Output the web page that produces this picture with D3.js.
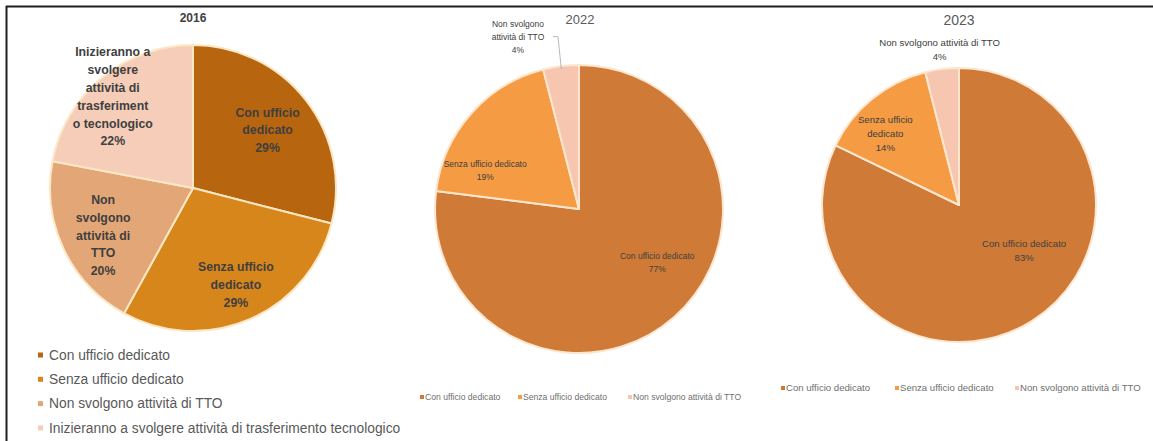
<!DOCTYPE html>
<html><head><meta charset="utf-8">
<script src="https://cdn.jsdelivr.net/npm/d3@7"></script>
<style>body{margin:0;background:#fff}svg{display:block;font-family:"Liberation Sans",Arial,sans-serif}</style>
</head><body>
<svg id="c" width="1153" height="441"></svg>
<script>
// ---- data ----
const titles = ["2016", "2022", "2023"];
const categories2016 = ["Con ufficio dedicato", "Senza ufficio dedicato", "Non svolgono attività di TTO", "Inizieranno a svolgere attività di trasferimento tecnologico"];
const values2016 = [29, 29, 20, 22];
const labels2016 = [["Con ufficio", "dedicato"], ["Senza ufficio", "dedicato"], ["Non", "svolgono", "attività di", "TTO"], ["Inizieranno a", "svolgere", "attività di", "trasferiment", "o tecnologico"]];
const categories2022 = ["Con ufficio dedicato", "Senza ufficio dedicato", "Non svolgono attività di TTO"];
const values2022 = [77, 19, 4];
const labels2022 = [["Con ufficio dedicato"], ["Senza ufficio dedicato"], ["Non svolgono", "attività di TTO"]];
const categories2023 = ["Con ufficio dedicato", "Senza ufficio dedicato", "Non svolgono attività di TTO"];
const values2023 = [83, 14, 4];
const labels2023 = [["Con ufficio dedicato"], ["Senza ufficio", "dedicato"], ["Non svolgono attività di TTO"]];

const colors2016 = ["#b8650f", "#d7861c", "#e3a676", "#f5cdb8"];
const colorsNew = ["#cf7b37", "#f49b43", "#f7c6b0"];

const svg = d3.select("#c");
svg.append("rect").attr("width", 1153).attr("height", 441).attr("fill", "#fff");
// frame
svg.append("line").attr("x1", 6).attr("x2", 1153).attr("y1", 6.5).attr("y2", 6.5).attr("stroke", "#1e1e1e").attr("stroke-width", 2);
svg.append("line").attr("x1", 6.5).attr("x2", 6.5).attr("y1", 6).attr("y2", 441).attr("stroke", "#1e1e1e").attr("stroke-width", 2);

const rad = Math.PI / 180;
function polar(cx, cy, ang, r) { return [cx + Math.sin(ang) * r, cy - Math.cos(ang) * r]; }

function drawPie(o) {
  const g = svg.append("g");
  const pie = d3.pie().sort(null).value(d => d)(o.values);
  const arc = d3.arc().innerRadius(0).outerRadius(o.r);
  const pg = g.append("g").attr("transform", `translate(${o.cx},${o.cy})`);
  pg.selectAll("path").data(pie).join("path")
    .attr("d", arc).attr("fill", (d, i) => o.colors[i])
    .attr("stroke", o.stroke).attr("stroke-width", 2).attr("stroke-linejoin", "round");
  g.append("text").attr("x", o.tx).attr("y", o.ty).attr("text-anchor", "middle")
    .attr("font-size", o.tSize).attr("font-weight", o.tWeight).attr("fill", o.tColor).text(o.title);
  pie.forEach((d, i) => {
    const L = o.lab[i];
    const mid = (d.startAngle + d.endAngle) / 2 + L.da * rad;
    const [x, y] = polar(o.cx, o.cy, mid, L.rf * o.r);
    const lines = o.labels[i].concat([o.values[i] + "%"]);
    const n = lines.length;
    const t = g.append("text").attr("text-anchor", "middle").attr("font-size", o.lSize)
      .attr("font-weight", o.lWeight).attr("fill", o.lColor);
    lines.forEach((s, k) => {
      t.append("tspan").attr("x", x).attr("y", y + (k - (n - 1) / 2) * o.lh + o.lSize * 0.35).text(s);
    });
    if (L.leader) {
      const mid0 = (d.startAngle + d.endAngle) / 2;
      const [px, py] = polar(o.cx, o.cy, mid0, o.r * 0.98);
      g.append("path").attr("d", `M${x + L.leader[0] - 5},${y + L.leader[1]} L${x + L.leader[0]},${y + L.leader[1]} L${px},${py}`)
        .attr("stroke", "#a6a6a6").attr("stroke-width", 0.8).attr("fill", "none");
    }
  });
}

drawPie({cx: 193, cy: 188, r: 143, values: values2016, labels: labels2016, colors: colors2016, stroke: "#fbe7c4",
  title: titles[0], tx: 193, ty: 22, tSize: 12, tWeight: "bold", tColor: "#404040",
  lSize: 12.3, lWeight: "bold", lColor: "#3f3f3f", lh: 17.8,
  lab: [{da: 0, rf: 0.66}, {da: -0.5, rf: 0.74}, {da: -2.5, rf: 0.71}, {da: -1.7, rf: 0.85}]});

drawPie({cx: 579, cy: 209, r: 144, values: values2022, labels: labels2022, colors: colorsNew, stroke: "#fce6cf",
  title: titles[1], tx: 580, ty: 24, tSize: 13, tWeight: "normal", tColor: "#595959",
  lSize: 8.5, lWeight: "normal", lColor: "#404040", lh: 13,
  lab: [{da: -14, rf: 0.66}, {da: -18.9, rf: 0.705}, {da: -12.3, rf: 1.27, leader: [40, 0]}]});

drawPie({cx: 959, cy: 205, r: 137, values: values2023, labels: labels2023, colors: colorsNew, stroke: "#fce6cf",
  title: titles[2], tx: 959, ty: 25, tSize: 14, tWeight: "normal", tColor: "#595959",
  lSize: 9.6, lWeight: "normal", lColor: "#404040", lh: 13.8,
  lab: [{da: -23, rf: 0.58}, {da: -6.6, rf: 0.75}, {da: 0, rf: 1.14}]});

function vLegend(cats, colors, x, y0, dy) {
  const g = svg.append("g");
  cats.forEach((c, i) => {
    const y = y0 + i * dy;
    g.append("rect").attr("x", x).attr("y", y - 2.5).attr("width", 5).attr("height", 5).attr("fill", colors[i]);
    g.append("text").attr("x", x + 11).attr("y", y + 4.8).attr("font-size", 13.8).attr("fill", "#595959").text(c);
  });
}
function hLegend(cats, colors, xs, y, size) {
  const g = svg.append("g");
  cats.forEach((c, i) => {
    g.append("rect").attr("x", xs[i]).attr("y", y - 2).attr("width", 4).attr("height", 4).attr("fill", colors[i]);
    g.append("text").attr("x", xs[i] + 5).attr("y", y + size * 0.35).attr("font-size", size).attr("fill", "#6f6f6f").text(c);
  });
}
vLegend(categories2016, colors2016, 38, 355, 24.3);
hLegend(categories2022, colorsNew, [420, 518, 628], 397, 8.6);
hLegend(categories2023, colorsNew, [781, 895, 1015], 388, 9.6);
</script>
</body></html>
